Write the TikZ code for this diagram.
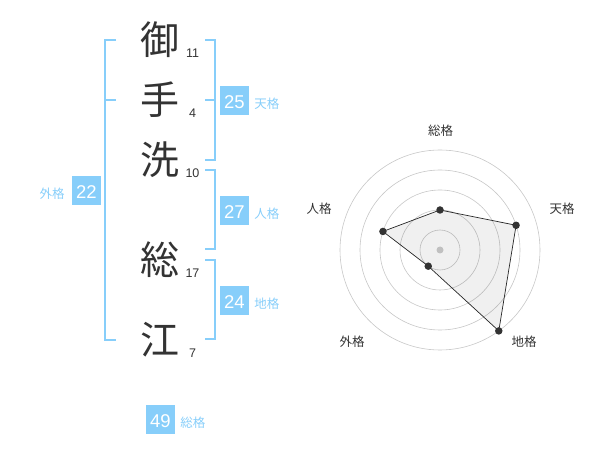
\documentclass[tikz,border=0pt]{standalone}
\usepackage{fontspec}
\setmainfont{Liberation Sans}
\newfontfamily\jp{Noto Sans CJK JP}
\usetikzlibrary{positioning}
\definecolor{kakublue}{HTML}{87CEFA}
\definecolor{ink}{HTML}{333333}

\tikzset{
  kanji/.style={inner sep=0pt, text=ink, font=\jp\fontsize{39}{39}\selectfont},
  strokes/.style={inner sep=0pt, text=ink, font=\fontsize{12.5}{12.5}\selectfont},
  numbox/.style={fill=kakublue, text=white, minimum size=29pt, inner sep=0pt,
    text height=17pt, text depth=0pt, font=\fontsize{18.5}{18.5}\selectfont},
  kaku/.style={inner sep=0pt, text=kakublue, font=\jp\fontsize{12.5}{12.5}\selectfont},
  bracket/.style={draw=kakublue, line width=2pt},
  ring/.style={draw=black!22, line width=0.6pt},
  axislabel/.style={inner sep=0pt, text=ink, font=\jp\fontsize{12.5}{12.5}\selectfont},
  vertex/.style={circle, fill=ink, minimum size=7.5pt, inner sep=0pt}
}

\begin{document}
\begin{tikzpicture}[x=1pt,y=-1pt]
\useasboundingbox (0,0) rectangle (600,470);

% name
\foreach \k/\y/\s/\n in {御/40/11/a, 手/100/4/b, 洗/160/10/c, 総/260/17/d, 江/340/7/e}
    {
    \node[kanji] (k\n) at (160,\y) {\k};
    \node[strokes] (s\n) at (192.5,\y+13) {\s};
    }

% brackets
\draw[bracket] (116,40) -| (105,340) -- (116,340);
\draw[bracket] (105,100) -- (116,100);
\draw[bracket] (205,40) -| (215,160) -- (205,160);
\draw[bracket] (205,100) -- (215,100);
\draw[bracket] (205,170) -| (215,249) -- (205,249);
\draw[bracket] (205,260) -| (215,339) -- (205,339);

% totals
\node[numbox] (n25) at (234.5,100.5) {25};
\node[numbox] (n27) at (234.5,210.5) {27};
\node[numbox] (n24) at (234.5,300.5) {24};
\node[numbox] (n22) at (86.5,190.5) {22};
\node[numbox] (n49) at (160.5,419) {49};
\node[kaku, anchor=base west] (l25) at ([xshift=5pt]n25.base east) {天格};
\node[kaku, anchor=base west] (l27) at ([xshift=5pt]n27.base east) {人格};
\node[kaku, anchor=base west] (l24) at ([xshift=5pt]n24.base east) {地格};
\node[kaku, anchor=base east] (l22) at ([xshift=-7pt]n22.base west) {外格};
\node[kaku, anchor=base west] (l49) at ([xshift=5pt]n49.base east) {総格};

% radar
\begin{scope}[shift={(440,250)}]
\foreach \r in {20,40,60,80,100}
    \draw[ring] (0,0) circle (\r pt);
\node[circle, fill=black!20, minimum size=7pt, inner sep=0pt] (c) at (0,0) {};
\foreach \a/\r/\n in {90/40/sou, 18/80/ten, -54/100/chi, -126/20/gai, 162/60/jin}
    \coordinate (p\n) at (\a:\r pt);
\draw[draw=black!85, line width=0.7pt, fill=black, fill opacity=0.06]
    (psou) -- (pten) -- (pchi) -- (pgai) -- (pjin) -- cycle;
\foreach \n in {sou,ten,chi,gai,jin}
    \node[vertex] (v\n) at (p\n) {};
\end{scope}
\node[axislabel] (asou) at (440.5,130.5) {総格};
\node[axislabel] (aten) at (562,209) {天格};
\node[axislabel] (achi) at (524,342) {地格};
\node[axislabel] (agai) at (352,342) {外格};
\node[axislabel] (ajin) at (319,209) {人格};
\end{tikzpicture}
\end{document}
